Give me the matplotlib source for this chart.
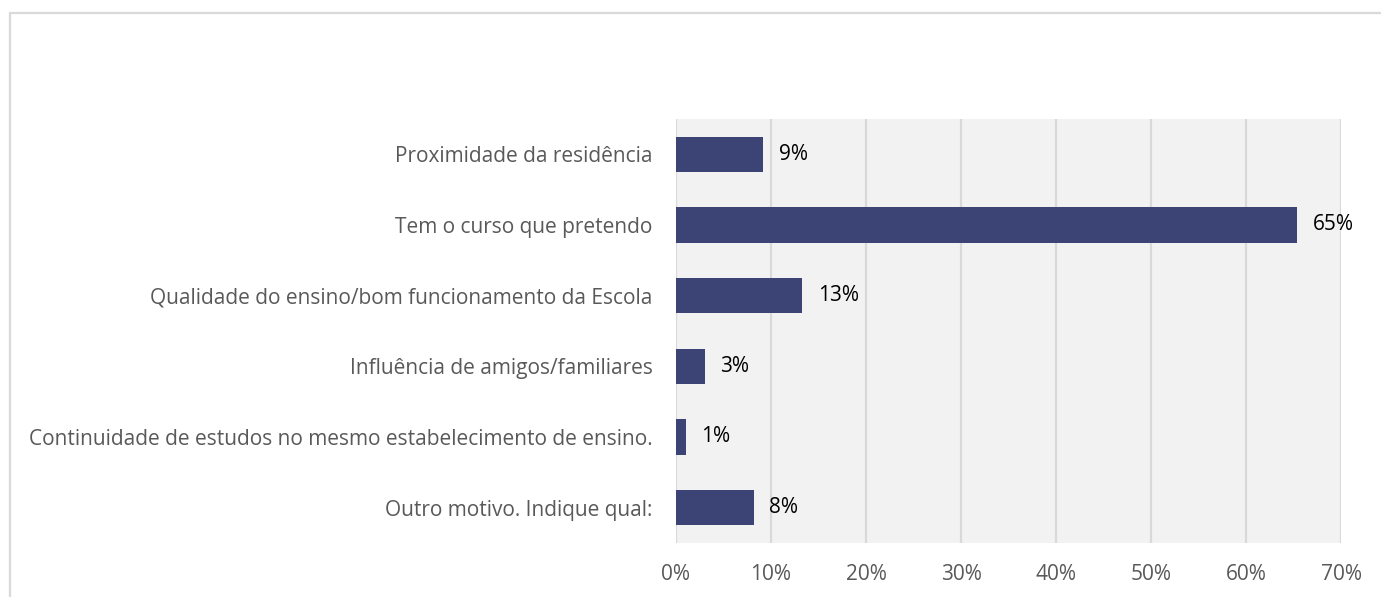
import matplotlib
matplotlib.use("Agg")
import matplotlib.pyplot as plt
from matplotlib.patches import Rectangle

categories = [
    "Proximidade da residência",
    "Tem o curso que pretendo",
    "Qualidade do ensino/bom funcionamento da Escola",
    "Influência de amigos/familiares",
    "Continuidade de estudos no mesmo estabelecimento de ensino.",
    "Outro motivo. Indique qual:",
]
values = [9.2, 65.4, 13.3, 3.0, 1.0, 8.2]
labels = ["9%", "65%", "13%", "3%", "1%", "8%"]
xticks = [0, 10, 20, 30, 40, 50, 60, 70]

plt.rcParams["font.family"] = ["Open Sans", "DejaVu Sans"]

fig = plt.figure(figsize=(13.81, 5.97), dpi=100)
ax = fig.add_axes([0.4895, 0.0905, 0.4816, 0.7102])

# light frame of the chart, cropped on right/bottom
fig.patches.append(Rectangle((10 / 1381, -0.1), 1.2, 0.1 + (597 - 13) / 597,
                             transform=fig.transFigure, fill=False,
                             edgecolor="#d9d9d9", linewidth=1.6))

ax.set_facecolor("#f2f2f2")
y = list(range(len(categories)))
ax.barh(y, values, height=0.5, color="#3b4475", zorder=3)
for yi, v, lab in zip(y, values, labels):
    ax.text(v + 1.6, yi, lab, va="center", ha="left", fontsize=15, color="black")

ax.set_xlim(0, 70)
ax.set_ylim(len(categories) - 0.5, -0.5)
ax.set_xticks(xticks)
ax.set_xticklabels([f"{t}%" for t in xticks])
ax.set_yticks(y)
ax.set_yticklabels(categories)
ax.tick_params(axis="both", length=0, labelsize=15, labelcolor="#595959")
ax.tick_params(axis="y", pad=17)
ax.tick_params(axis="x", pad=15)
ax.grid(axis="x", color="#d9d9d9", linewidth=1.6, zorder=0)
ax.set_axisbelow(True)
for s in ax.spines.values():
    s.set_visible(False)

fig.savefig("out.png", dpi=100)
